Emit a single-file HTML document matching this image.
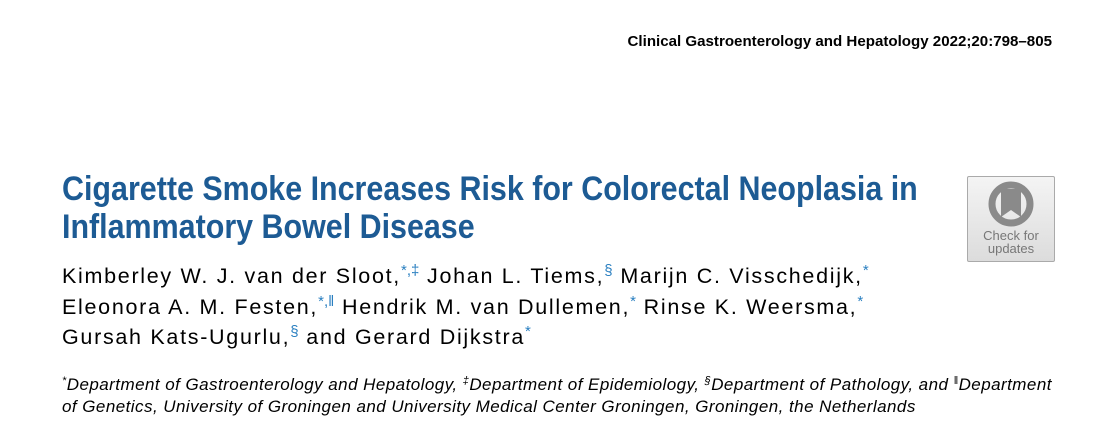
<!DOCTYPE html>
<html><head><meta charset="utf-8"><style>
body{margin:0;width:1113px;height:429px;background:#fff;position:relative;overflow:hidden;font-family:"Liberation Sans",Arial,sans-serif;color:#000}
.a{position:absolute;white-space:nowrap}
.hdr{right:61px;top:33px;font-size:15.1px;font-weight:bold}
.t{left:62px;font-size:34px;font-weight:bold;color:#1d5b94;transform-origin:0 0;transform:scaleX(0.895)}
.au{left:62px;font-size:21.5px;letter-spacing:1.7px}
.au sup{font-size:15px;color:#2a7fc0;vertical-align:8px;line-height:0;letter-spacing:0}
.af{left:62px;font-size:17px;font-style:italic;letter-spacing:0.45px}
.af sup{color:#000;font-size:11px;vertical-align:6px;line-height:0}
.badge{left:967px;top:176px;width:86px;height:84px;border:1px solid #aaa;background:linear-gradient(#f4f4f4,#dcdcdc);border-radius:2px}
</style></head><body>
<div class="a hdr">Clinical Gastroenterology and Hepatology 2022;20:798–805</div>
<div class="a t" style="top:170px">Cigarette Smoke Increases Risk for Colorectal Neoplasia in</div>
<div class="a t" style="top:208px">Inflammatory Bowel Disease</div>
<div class="a au" style="top:264px">Kimberley W. J. van der Sloot,<sup>*,‡</sup> Johan L. Tiems,<sup>§</sup> Marijn C. Visschedijk,<sup>*</sup></div>
<div class="a au" style="top:295px">Eleonora A. M. Festen,<sup>*,‖</sup> Hendrik M. van Dullemen,<sup>*</sup> Rinse K. Weersma,<sup>*</sup></div>
<div class="a au" style="top:325px">Gursah Kats-Ugurlu,<sup>§</sup> and Gerard Dijkstra<sup>*</sup></div>
<div class="a af" style="top:375px"><sup>*</sup>Department of Gastroenterology and Hepatology, <sup>‡</sup>Department of Epidemiology, <sup>§</sup>Department of Pathology, and <sup>‖</sup>Department</div>
<div class="a af" style="top:397px">of Genetics, University of Groningen and University Medical Center Groningen, Groningen, the Netherlands</div>
<div class="a badge">
<svg width="86" height="84" viewBox="0 0 86 84">
<circle cx="43" cy="27" r="19" fill="none" stroke="#8a8a8a" stroke-width="7"/>
<path d="M33 12 H53 V40 L43 33 L33 40 Z" fill="#8a8a8a"/>
<text x="43" y="63" font-family="Liberation Sans,sans-serif" font-size="13" fill="#777" text-anchor="middle">Check for</text>
<text x="43" y="76" font-family="Liberation Sans,sans-serif" font-size="13" fill="#777" text-anchor="middle">updates</text>
</svg></div>
</body></html>
